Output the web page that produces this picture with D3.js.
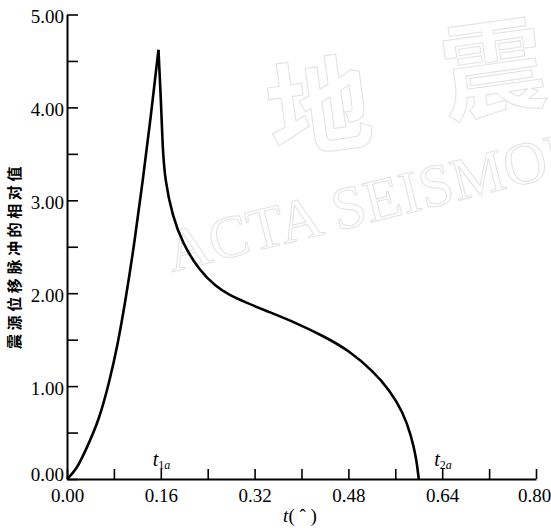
<!DOCTYPE html>
<html>
<head>
<meta charset="utf-8">
<script src="https://cdn.jsdelivr.net/npm/d3@7"></script>
<style>
  body { margin: 0; background: #fff; }
  svg { display: block; }
</style>
</head>
<body>
<script>
const width = 551;
const height = 528;

// data: time (s) and relative source pulse value
const times  = [0, 0.016, 0.032, 0.055, 0.072, 0.086, 0.100, 0.115, 0.129, 0.143, 0.156,
                0.160, 0.163, 0.167, 0.180, 0.197, 0.225, 0.254, 0.277, 0.305, 0.340,
                0.391, 0.437, 0.482, 0.522, 0.550, 0.573, 0.587, 0.596, 0.600];
const values = [0, 0.10, 0.31, 0.64, 1.04, 1.43, 1.93, 2.54, 3.20, 3.90, 4.62,
                4.12, 3.58, 3.22, 2.83, 2.54, 2.25, 2.07, 1.98, 1.90, 1.81,
                1.68, 1.54, 1.38, 1.16, 0.96, 0.72, 0.47, 0.22, 0];

const xTicks = [0, 0.08, 0.16, 0.24, 0.32, 0.40, 0.48, 0.56, 0.64, 0.72, 0.80];
const xLabels = [0, 0.16, 0.32, 0.48, 0.64, 0.80];
const yTicks = [0, 0.5, 1, 1.5, 2, 2.5, 3, 3.5, 4, 4.5, 5];
const yLabels = [0, 1, 2, 3, 4, 5];

// t1a / t2a marks above the time axis
const markPos = [0.16, 0.64];
const markSub = ["1a", "2a"];

const yTitle = "震源位移脉冲的相对值";

const serif = "'Liberation Serif', 'DejaVu Serif', serif";

const svg = d3.select("body")
    .append("svg")
    .attr("width", width)
    .attr("height", height);

const xScale = d3.scaleLinear()
    .domain([0, 0.8])
    .range([67, 536]);

const yScale = d3.scaleLinear()
    .domain([0, 5])
    .range([479, 14.5]);

// faint journal watermark
const wm = svg.append("g")
    .attr("fill", "none")
    .attr("stroke", "#e2e2e2")
    .attr("stroke-width", 1);

wm.append("text")
    .attr("x", 318).attr("y", 100)
    .attr("text-anchor", "middle")
    .attr("dominant-baseline", "central")
    .attr("font-family", "'Noto Sans CJK SC'")
    .attr("font-size", 104)
    .attr("font-weight", 700)
    .attr("transform", "rotate(-8, 318, 100)")
    .text("地");

wm.append("text")
    .attr("x", 492).attr("y", 62)
    .attr("text-anchor", "middle")
    .attr("dominant-baseline", "central")
    .attr("font-family", "'Noto Sans CJK SC'")
    .attr("font-size", 104)
    .attr("font-weight", 700)
    .attr("transform", "rotate(-8, 492, 62)")
    .text("震");

wm.append("text")
    .attr("transform", "translate(172,272) rotate(-14)")
    .attr("font-family", serif)
    .attr("font-size", 60)
    .text("ACTA SEISMOLOGICA SINICA");

// axes
const xAxis = d3.axisBottom(xScale)
    .tickValues(xTicks)
    .tickSize(-10)
    .tickSizeOuter(0)
    .tickPadding(10)
    .tickFormat(d => xLabels.some(v => Math.abs(v - d) < 1e-9) ? d3.format(".2f")(d) : "");

const yAxis = d3.axisLeft(yScale)
    .tickValues(yTicks)
    .tickSize(-11)
    .tickSizeOuter(0)
    .tickPadding(3)
    .tickFormat(d => yLabels.includes(d) ? d3.format(".2f")(d) : "");

const gx = svg.append("g")
    .attr("transform", `translate(0, ${yScale(0)})`)
    .call(xAxis);

const gy = svg.append("g")
    .attr("transform", `translate(${xScale(0)}, 0)`)
    .call(yAxis);

[gx, gy].forEach(g => {
    g.select(".domain").attr("stroke", "#000").attr("stroke-width", 2);
    g.selectAll(".tick line").attr("stroke", "#000").attr("stroke-width", 1.6);
    g.selectAll(".tick text")
        .attr("fill", "#000")
        .attr("font-family", serif)
        .attr("font-size", 19);
});
gy.selectAll(".tick text")
    .attr("dy", d => d === 0 ? "0.1em" : "0.42em");
gx.selectAll(".tick text")
    .attr("dx", d => d === 0.8 ? -2 : 0);

// the pulse: rising part and falling part meet in a sharp peak
const pts = times.map((t, i) => ({ t, v: values[i] }));
const peak = d3.maxIndex(values);
const rising = pts.slice(0, peak + 1);
const falling = pts.slice(peak);

const line = d3.line()
    .x(d => xScale(d.t))
    .y(d => yScale(d.v))
    .curve(d3.curveBasis);

[rising, falling].forEach(seg => {
    svg.append("path")
        .datum(seg)
        .attr("d", line)
        .attr("fill", "none")
        .attr("stroke", "#000")
        .attr("stroke-width", 2.6)
        .attr("stroke-linejoin", "miter");
});

// t1a, t2a
markPos.forEach((p, i) => {
    const txt = svg.append("text")
        .attr("x", xScale(p) - 8)
        .attr("y", 466)
        .attr("font-family", serif)
        .attr("font-size", 20)
        .attr("fill", "#000");
    txt.append("tspan").attr("font-style", "italic").text("t");
    txt.append("tspan").attr("font-size", 12).attr("dy", 3).text(markSub[i][0]);
    txt.append("tspan").attr("font-size", 12).attr("font-style", "italic").text(markSub[i][1]);
});

// axis titles
const xt = svg.append("text")
    .attr("x", 300)
    .attr("y", 522)
    .attr("text-anchor", "middle")
    .attr("font-family", serif)
    .attr("font-size", 19)
    .attr("fill", "#000");
xt.append("tspan").attr("font-style", "italic").text("t");
xt.append("tspan").text("( ˆ )");

svg.append("text")
    .attr("transform", "translate(20, 256) rotate(-90)")
    .attr("text-anchor", "middle")
    .attr("font-family", "'Noto Sans CJK SC'")
    .attr("font-weight", 700)
    .attr("font-size", 15)
    .attr("letter-spacing", 3.6)
    .attr("fill", "#000")
    .text(yTitle);
</script>
</body>
</html>
